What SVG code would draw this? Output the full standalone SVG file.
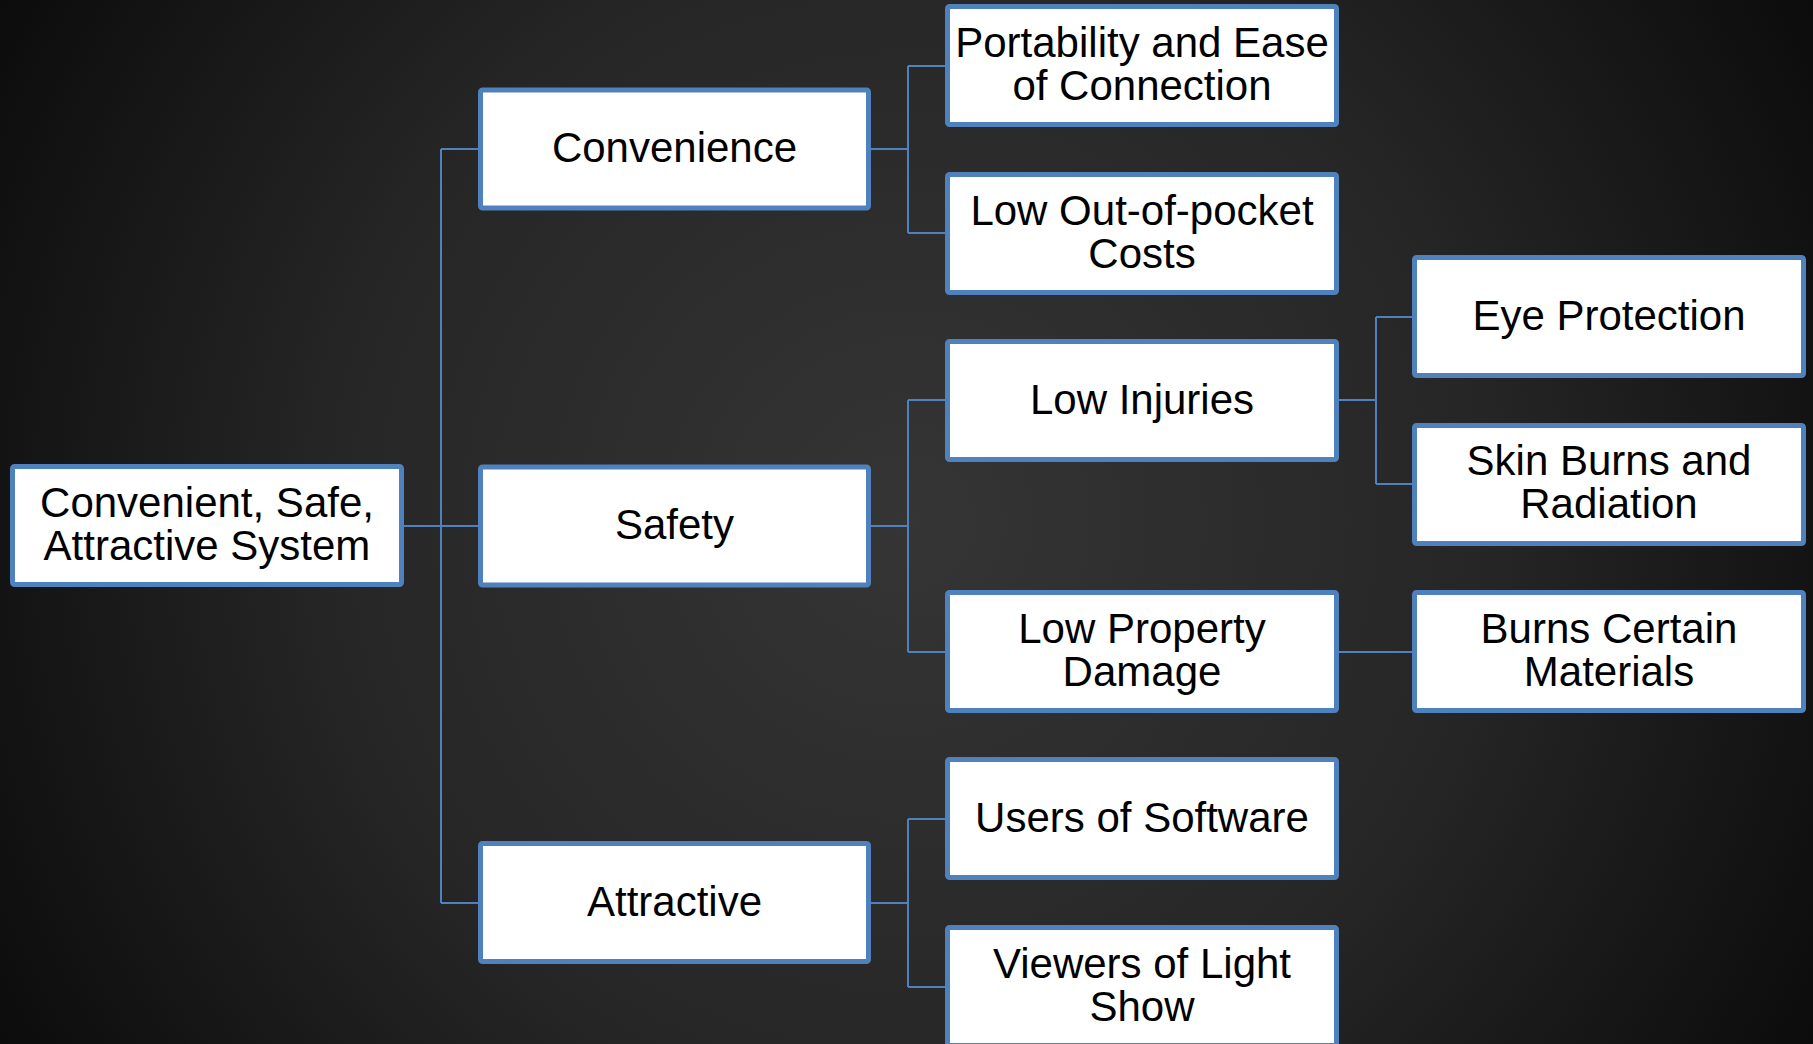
<svg xmlns="http://www.w3.org/2000/svg" width="1813" height="1044" viewBox="0 0 1813 1044">
<defs>
<radialGradient id="bg" gradientUnits="userSpaceOnUse" cx="906" cy="522" r="1040">
<stop offset="0" stop-color="#353535"/>
<stop offset="0.55" stop-color="#262626"/>
<stop offset="1" stop-color="#0c0c0c"/>
</radialGradient>
<style>
.box{fill:#ffffff;stroke:#4f81bd;stroke-width:5}
.t{font-family:"Liberation Sans",Arial,sans-serif;font-size:42px;fill:#000000;text-anchor:middle}
.c{fill:none;stroke:#4f81bd;stroke-width:2}
</style>
</defs>
<rect x="0" y="0" width="1813" height="1044" fill="url(#bg)"/>
<g id="connectors">
<path class="c" d="M404 526H441M441 149V903M441 149H478M441 526H478M441 903H478"/>
<path class="c" d="M871 149H908M908 66V233M908 66H945M908 233H945"/>
<path class="c" d="M871 526H908M908 400V652M908 400H945M908 652H945"/>
<path class="c" d="M871 903H908M908 819V987M908 819H945M908 987H945"/>
<path class="c" d="M1339 400H1376M1376 317V484M1376 317H1412M1376 484H1412"/>
<path class="c" d="M1339 652H1412"/>
</g>
<g id="root">
<rect class="box" x="12.5" y="466.5" width="389" height="118" rx="2"/>
<text class="t" x="207" y="517">Convenient, Safe,</text>
<text class="t" x="207" y="560">Attractive System</text>
</g>
<g id="convenience">
<rect class="box" x="480.5" y="90" width="388" height="118" rx="2"/>
<text class="t" x="674.5" y="162">Convenience</text>
</g>
<g id="safety">
<rect class="box" x="480.5" y="467" width="388" height="118" rx="2"/>
<text class="t" x="674.5" y="539">Safety</text>
</g>
<g id="attractive">
<rect class="box" x="480.5" y="843.5" width="388" height="118" rx="2"/>
<text class="t" x="674.5" y="916">Attractive</text>
</g>
<g id="portability">
<rect class="box" x="947.5" y="6.5" width="389" height="118" rx="2"/>
<text class="t" x="1142" y="57">Portability and Ease</text>
<text class="t" x="1142" y="100">of Connection</text>
</g>
<g id="low-out-of-pocket">
<rect class="box" x="947.5" y="174.5" width="389" height="118" rx="2"/>
<text class="t" x="1142" y="225">Low Out-of-pocket</text>
<text class="t" x="1142" y="268">Costs</text>
</g>
<g id="low-injuries">
<rect class="box" x="947.5" y="341.5" width="389" height="118" rx="2"/>
<text class="t" x="1142" y="414">Low Injuries</text>
</g>
<g id="low-property-damage">
<rect class="box" x="947.5" y="592.5" width="389" height="118" rx="2"/>
<text class="t" x="1142" y="643">Low Property</text>
<text class="t" x="1142" y="686">Damage</text>
</g>
<g id="users-of-software">
<rect class="box" x="947.5" y="759.5" width="389" height="118" rx="2"/>
<text class="t" x="1142" y="832">Users of Software</text>
</g>
<g id="viewers-of-light-show">
<rect class="box" x="947.5" y="927.5" width="389" height="118" rx="2"/>
<text class="t" x="1142" y="978">Viewers of Light</text>
<text class="t" x="1142" y="1021">Show</text>
</g>
<g id="eye-protection">
<rect class="box" x="1414.5" y="257.5" width="389" height="118" rx="2"/>
<text class="t" x="1609" y="330">Eye Protection</text>
</g>
<g id="skin-burns">
<rect class="box" x="1414.5" y="425.5" width="389" height="118" rx="2"/>
<text class="t" x="1609" y="475">Skin Burns and</text>
<text class="t" x="1609" y="518">Radiation</text>
</g>
<g id="burns-certain-materials">
<rect class="box" x="1414.5" y="592.5" width="389" height="118" rx="2"/>
<text class="t" x="1609" y="643">Burns Certain</text>
<text class="t" x="1609" y="686">Materials</text>
</g>
</svg>
